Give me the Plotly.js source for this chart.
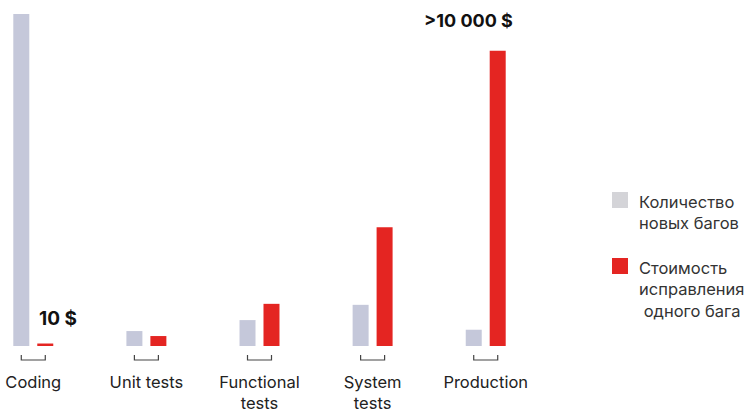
<!DOCTYPE html>
<html>
<head>
<meta charset="utf-8">
<script src="https://cdn.plot.ly/plotly-3.0.1.min.js"></script>
<style>
html,body{margin:0;padding:0;background:#fff;}
#chart{width:745px;height:412px;}
</style>
</head>
<body>
<div id="chart"></div>
<script>
var categories = ["Coding", "Unit tests", "Functional<br>tests", "System<br>tests", "Production"];
var bugCount = [100, 4.5, 7.8, 12.4, 4.9];
var fixCost = [0.75, 3.0, 12.7, 35.8, 88.9];
var seriesNames = ["Количество<br>новых багов", "Стоимость<br>исправления<br> одного бага"];
var costLabels = ["10 $", "", "", "", ">10 000 $"];

var grayBar = "#c5c8da";
var grayLegend = "#d4d4d8";
var red = "#e42522";
var font = "Inter, 'Noto Sans', sans-serif";

var traces = [
  {type: "bar", x: categories, y: bugCount, name: seriesNames[0], marker: {color: grayBar}, hoverinfo: "none", showlegend: false},
  {type: "bar", x: categories, y: fixCost, name: seriesNames[1], marker: {color: red}, hoverinfo: "none", showlegend: false}
];

var shapes = [];
var annotations = [];
var pxPerCat = 509 / 4.5;
var half = 12 / pxPerCat;
var yTop = -9 / 332, yBot = -14 / 332;
categories.forEach(function (c, i) {
  shapes.push({
    type: "path", xref: "x", yref: "paper",
    path: "M" + (i - half) + "," + yTop + " L" + (i - half) + "," + yBot + " L" + (i + half) + "," + yBot + " L" + (i + half) + "," + yTop,
    line: {color: "#444", width: 1.2}
  });
});

// value labels
annotations.push({x: categories[0], y: fixCost[0], xref: "x", yref: "y", text: "<b>" + costLabels[0] + "</b>",
  showarrow: false, xanchor: "left", yanchor: "bottom", xshift: 4, yshift: 12,
  font: {family: font, size: 19, color: "#111"}});
annotations.push({x: categories[4], y: fixCost[4], xref: "x", yref: "y", text: "<b>" + costLabels[4] + "</b>",
  showarrow: false, xanchor: "center", yanchor: "bottom", xshift: -17, yshift: 18,
  font: {family: font, size: 18, color: "#111"}});

// manual legend
var legendColors = [grayLegend, red];
var legendTop = [192, 258];
legendColors.forEach(function (col, k) {
  var t = legendTop[k];
  shapes.push({type: "rect", xref: "paper", yref: "paper",
    x0: (612 - 5) / 509, x1: (628 - 5) / 509,
    y0: (346 - t) / 332, y1: (346 - t - 16) / 332,
    fillcolor: col, line: {width: 0}});
  annotations.push({xref: "paper", yref: "paper", x: (637 - 5) / 509, y: (346 - t + 2) / 332,
    text: seriesNames[k], showarrow: false, xanchor: "left", yanchor: "top", align: "left",
    font: {family: font, size: 16.5, color: "#333"}});
});

var layout = {
  width: 745, height: 412,
  margin: {l: 5, r: 231, t: 14, b: 66},
  paper_bgcolor: "#fff", plot_bgcolor: "#fff",
  barmode: "group", bargap: 0.576, bargroupgap: 0.333,
  showlegend: false,
  font: {family: font, size: 16.5, color: "#222"},
  xaxis: {type: "category", range: [-0.25, 4.25], showgrid: false, zeroline: false, showline: false,
    ticks: "", ticklabelstandoff: 24, tickfont: {family: font, size: 16.5, color: "#222"}, fixedrange: true},
  yaxis: {range: [0, 100], visible: false, showgrid: false, zeroline: false, fixedrange: true},
  shapes: shapes,
  annotations: annotations
};

Plotly.newPlot("chart", traces, layout, {displayModeBar: false, staticPlot: true});
</script>
</body>
</html>
